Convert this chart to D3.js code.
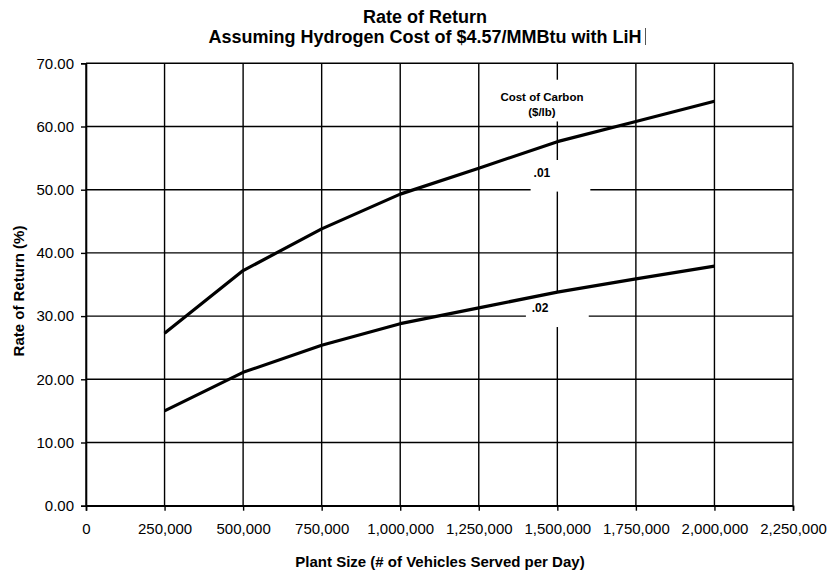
<!DOCTYPE html>
<html><head><meta charset="utf-8">
<script src="https://cdn.jsdelivr.net/npm/d3@7"></script>
<style>body{margin:0;background:#fff}svg{display:block}text{font-family:"Liberation Sans",Arial,sans-serif;fill:#000}</style>
</head><body><svg id="c" width="833" height="574"></svg>
<script>
const plantSizes = [250000, 500000, 750000, 1000000, 1250000, 1500000, 1750000, 2000000];
const returnCarbon01 = [27.3, 37.2, 43.8, 49.3, 53.4, 57.6, 60.8, 64.0];
const returnCarbon02 = [15.0, 21.1, 25.4, 28.8, 31.3, 33.8, 35.9, 37.9];
const seriesLabels = [".01", ".02"];
const xTicks = [0, 250000, 500000, 750000, 1000000, 1250000, 1500000, 1750000, 2000000, 2250000];
const yTicks = [0, 10, 20, 30, 40, 50, 60, 70];
const titleLines = ["Rate of Return", "Assuming Hydrogen Cost of $4.57/MMBtu with LiH"];
const xTitle = "Plant Size (# of Vehicles Served per Day)";
const yTitle = "Rate of Return (%)";
const legendTitle = ["Cost of Carbon", "($/lb)"];

const svg = d3.select("#c");
const L = 86, R = 793, T = 63.3, B = 505.7;
const x = d3.scaleLinear().domain([0, 2250000]).range([L, R]);
const y = d3.scaleLinear().domain([0, 70]).range([B, T]);

// gridlines
const g = svg.append("g");
g.selectAll(".hg").data(yTicks).join("line")
  .attr("x1", L).attr("x2", R).attr("y1", d => y(d)).attr("y2", d => y(d))
  .attr("stroke", "#000").attr("stroke-width", 1.4);
g.selectAll(".vg").data(xTicks).join("line")
  .attr("y1", T).attr("y2", B).attr("x1", d => x(d)).attr("x2", d => x(d))
  .attr("stroke", "#000").attr("stroke-width", 1.4);

// axes
const fmtX = d3.format(",");
const xAxis = svg.append("g").attr("transform", `translate(0,${B})`)
  .call(d3.axisBottom(x).tickValues(xTicks).tickFormat(d => fmtX(d)).tickSize(5).tickPadding(13));
const yAxis = svg.append("g").attr("transform", `translate(${L},0)`)
  .call(d3.axisLeft(y).tickValues(yTicks).tickFormat(d3.format(".2f")).tickSize(5).tickPadding(7));
[xAxis, yAxis].forEach(a => {
  a.select(".domain").attr("stroke", "#000").attr("stroke-width", 1.6);
  a.selectAll(".tick line").attr("stroke", "#000").attr("stroke-width", 1.4);
  a.selectAll("text").attr("font-size", 15).attr("font-family", '"Liberation Sans",Arial,sans-serif').attr("fill", "#000");
});

// white label boxes over the gridlines (data-unit extents)
const labelBoxes = [[1415000, 1605000, 54.7, 49.7], [1400000, 1600000, 33.65, 28.27]];
const legendBox = [1320000, 1650000, 67.4, 60.8];
[...labelBoxes, legendBox].forEach(b => {
  svg.append("rect").attr("x", x(b[0])).attr("y", y(b[2]))
    .attr("width", x(b[1]) - x(b[0])).attr("height", y(b[3]) - y(b[2])).attr("fill", "#fff");
});

// series
const lineGen = d3.line().x((d, i) => x(plantSizes[i])).y(d => y(d));
[returnCarbon01, returnCarbon02].forEach(s => {
  svg.append("path").datum(s).attr("d", lineGen).attr("fill", "none")
    .attr("stroke", "#000").attr("stroke-width", 3.2).attr("stroke-linejoin", "round");
});
const labelText = [[1451000, 52.0], [1445000, 30.65]];
seriesLabels.forEach((t, i) => {
  svg.append("text").attr("x", x(labelText[i][0])).attr("y", y(labelText[i][1]))
    .attr("text-anchor", "middle").attr("font-size", 12).attr("font-weight", "bold").text(t);
});
legendTitle.forEach((t, i) => {
  svg.append("text").attr("x", x(1451000)).attr("y", 101 + i * 15)
    .attr("text-anchor", "middle").attr("font-size", 11.5).attr("font-weight", "bold").text(t);
});

// titles
titleLines.forEach((t, i) => {
  svg.append("text").attr("x", 425).attr("y", 23 + i * 19.5).attr("text-anchor", "middle")
    .attr("font-size", 18).attr("font-weight", "bold").text(t);
});
svg.append("line").attr("x1", 645.5).attr("x2", 645.5).attr("y1", 28).attr("y2", 45).attr("stroke", "#555").attr("stroke-width", 1);
svg.append("text").attr("x", 440).attr("y", 567).attr("text-anchor", "middle")
  .attr("font-size", 15).attr("font-weight", "bold").text(xTitle);
svg.append("text").attr("transform", `translate(24,291) rotate(-90)`).attr("text-anchor", "middle")
  .attr("font-size", 15).attr("font-weight", "bold").text(yTitle);
</script></body></html>
